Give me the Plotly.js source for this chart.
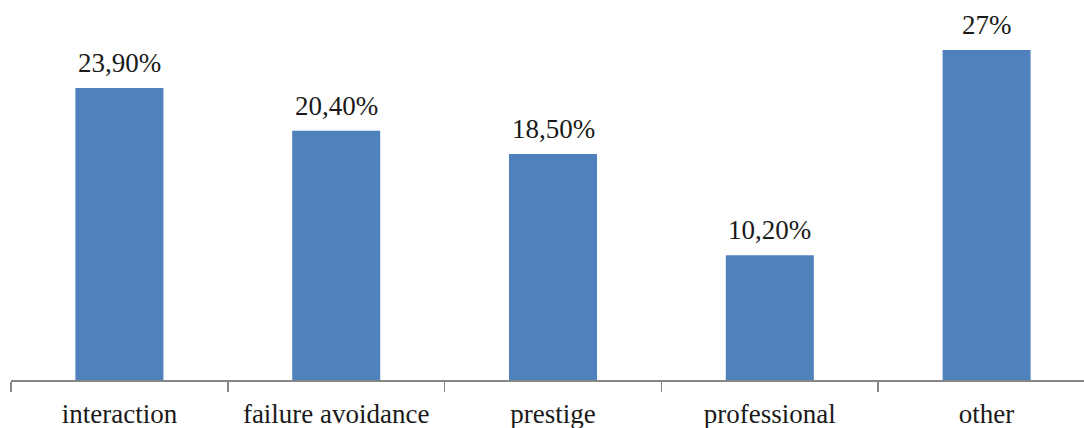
<!DOCTYPE html>
<html>
<head>
<meta charset="utf-8">
<script src="https://cdn.plot.ly/plotly-3.0.1.min.js"></script>
<style>
  html, body { margin: 0; padding: 0; background: #fff; overflow: hidden; }
  #chart { width: 1095px; height: 428px; }
</style>
</head>
<body>
<div id="chart"></div>
<script>
// Motives and their shares (percent)
const categories = ["interaction", "failure avoidance", "prestige", "professional", "other"];
const shares = [23.9, 20.4, 18.5, 10.2, 27];

// Percent label with a decimal comma; whole numbers keep no decimals
function pctLabel(v) {
  return Number.isInteger(v) ? v + "%" : v.toFixed(2).replace(".", ",") + "%";
}

const serif = "'Liberation Serif', 'Times New Roman', serif";

const trace = {
  type: "bar",
  x: categories,
  y: shares,
  marker: { color: "#4F81BD" },
  width: 0.406,
  hoverinfo: "skip"
};

const annotations = categories.map((c, i) => ({
  x: c,
  y: shares[i],
  xref: "x",
  yref: "y",
  text: pctLabel(shares[i]),
  showarrow: false,
  yanchor: "bottom",
  yshift: 8,
  font: { family: serif, size: 27, color: "#1a1a1a" }
}));

const layout = {
  width: 1095,
  height: 428,
  margin: { l: 11, r: 0, t: 0, b: 48 },
  paper_bgcolor: "#fff",
  plot_bgcolor: "#fff",
  showlegend: false,
  xaxis: {
    type: "category",
    showline: true,
    linecolor: "#868686",
    linewidth: 1.5,
    ticks: "outside",
    tickson: "boundaries",
    ticklen: 10,
    tickwidth: 1.5,
    tickcolor: "#868686",
    ticklabelstandoff: 9,
    tickfont: { family: serif, size: 27, color: "#1a1a1a" },
    showgrid: false,
    zeroline: false,
    fixedrange: true
  },
  yaxis: {
    visible: false,
    range: [0, 31.1],
    showgrid: false,
    zeroline: false,
    fixedrange: true
  },
  annotations: annotations
};

Plotly.newPlot("chart", [trace], layout, { displayModeBar: false, staticPlot: true });
</script>
</body>
</html>
